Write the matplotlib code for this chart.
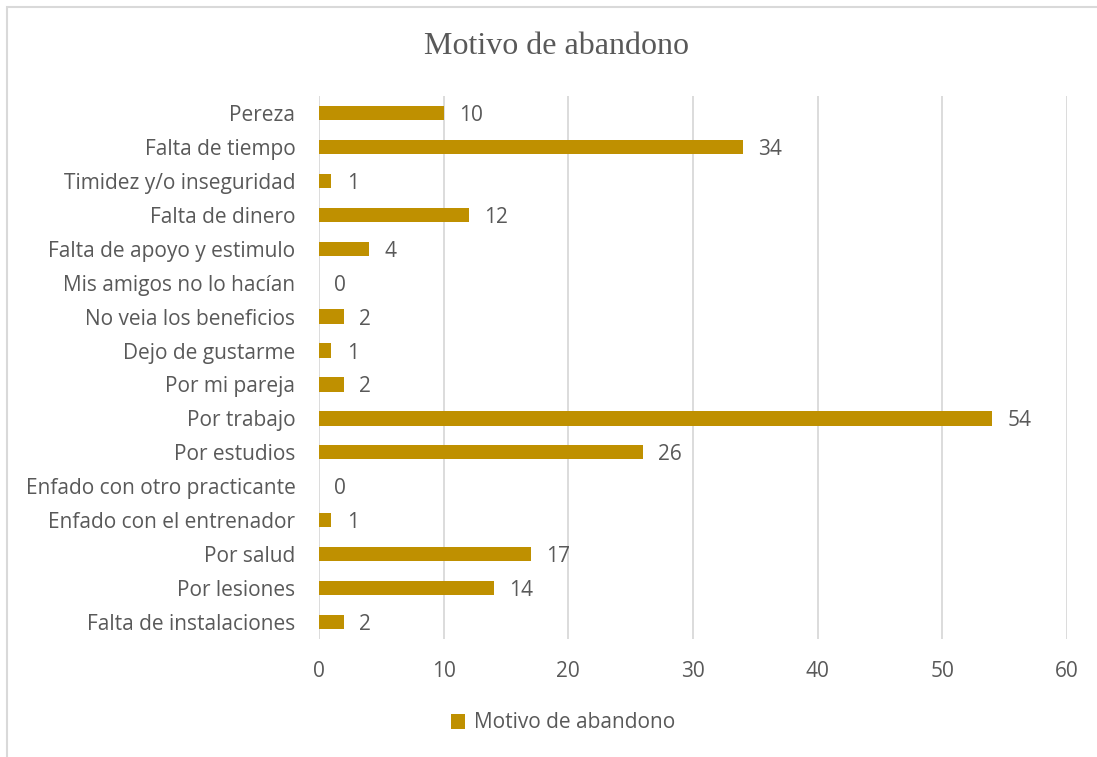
import matplotlib.pyplot as plt
from matplotlib.patches import Rectangle

motivos = ['Pereza', 'Falta de tiempo', 'Timidez y/o inseguridad', 'Falta de dinero',
           'Falta de apoyo y estimulo', 'Mis amigos no lo hacían', 'No veia los beneficios',
           'Dejo de gustarme', 'Por mi pareja', 'Por trabajo', 'Por estudios',
           'Enfado con otro practicante', 'Enfado con el entrenador', 'Por salud',
           'Por lesiones', 'Falta de instalaciones']
valores = [10, 34, 1, 12, 4, 0, 2, 1, 2, 54, 26, 0, 1, 17, 14, 2]
x_ticks = [0, 10, 20, 30, 40, 50, 60]

color_barra = '#BF9000'
gris = '#595959'

plt.rcParams['font.family'] = ['Open Sans', 'DejaVu Sans']

fig = plt.figure(figsize=(10.97, 7.57), dpi=100)
ax = fig.add_axes([319 / 1097, 1 - 639 / 757, 748 / 1097, 543 / 757])

pos = list(range(len(motivos)))
ax.barh(pos, valores, height=0.42, color=color_barra, zorder=3, label='Motivo de abandono')
for p, v in zip(pos, valores):
    ax.annotate(str(v), (v, p), xytext=(11, 0), textcoords='offset points',
                va='center_baseline', ha='left', fontsize=15, color=gris)

ax.set_ylim(len(motivos) - 0.5, -0.5)
ax.set_xlim(0, 60)
ax.set_xticks(x_ticks)
ax.set_yticks(pos)
ax.set_yticklabels(motivos)
ax.tick_params(axis='both', length=0, labelsize=15, labelcolor=gris)
ax.tick_params(axis='y', pad=17)
ax.tick_params(axis='x', pad=16)
ax.grid(axis='x', color='#D9D9D9', linewidth=1.3, zorder=0)
for s in ax.spines.values():
    s.set_visible(False)

fig.text(557 / 1097, 1 - 47 / 757, 'Motivo de abandono', ha='center', va='center',
         fontsize=23, color=gris, family='Liberation Serif')

fig.legend(loc='center', bbox_to_anchor=(563 / 1097, 1 - 723 / 757), frameon=False,
           fontsize=15, labelcolor=gris, handlelength=0.7, handleheight=0.7,
           handletextpad=0.4)

fig.patches.append(Rectangle((7 / 1097, -0.01), 1.02, 1 - 7 / 757 + 0.01,
                             transform=fig.transFigure, fill=False,
                             edgecolor='#D9D9D9', linewidth=1.5))

fig.savefig('out.png', dpi=100)
